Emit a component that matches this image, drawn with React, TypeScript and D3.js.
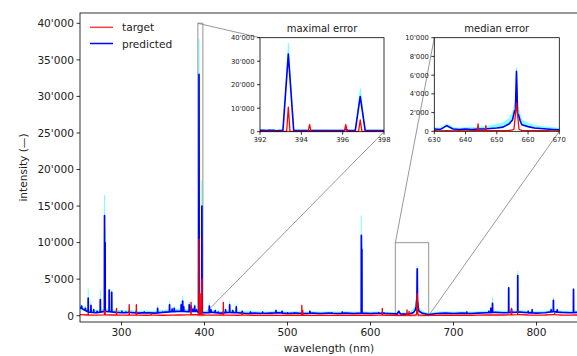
import React from 'react';
import * as d3 from 'd3';

const W = 577;
const H = 356;

// baseline sample points (nm) and the continuum
const baseNm = [250, 260, 270, 280, 290, 300, 310, 320, 330, 340, 350, 360, 370, 380, 390, 400, 410, 420, 430, 440, 450, 460, 470, 480, 490, 500, 510, 520, 530, 540, 550, 560, 570, 580, 590, 600, 610, 620,
  630, 632, 634, 636, 638, 640, 642, 644, 646, 648, 650, 652, 654, 655, 655.7, 656.9, 657.5, 658, 660, 662, 664, 666, 668, 670,
  680, 690, 700, 710, 720, 730, 740, 750, 760, 770, 780, 790, 800, 810, 820, 830, 840, 850];

const predictedBase = [1100, 500, 400, 600, 500, 400, 450, 350, 400, 350, 450, 550, 600, 550, 600, 400, 450, 350, 450, 400, 300, 350, 300, 350, 400, 300, 350, 300, 350, 300, 350, 300, 350, 300, 350, 300, 350, 300,
  250, 200, 600, 250, 200, 250, 200, 250, 250, 300, 350, 450, 800, 1200, 2200, 1800, 1100, 700, 500, 350, 300, 250, 200, 150,
  300, 350, 300, 350, 300, 350, 400, 450, 400, 450, 500, 400, 350, 400, 550, 450, 400, 450];

const predictedBaseHi = [1500, 800, 700, 900, 800, 700, 750, 600, 650, 600, 750, 850, 900, 850, 900, 650, 700, 600, 700, 650, 550, 600, 500, 550, 600, 500, 550, 500, 550, 500, 550, 500, 550, 500, 550, 500, 550, 500,
  400, 350, 800, 400, 350, 400, 400, 450, 500, 600, 750, 900, 1400, 2000, 3000, 2600, 1800, 1200, 900, 650, 550, 450, 400, 300,
  500, 550, 500, 550, 500, 550, 600, 650, 600, 650, 700, 600, 550, 600, 750, 650, 600, 650];

const targetBase = [150, 100, 80, 120, 100, 80, 100, 80, 60, 80, 60, 80, 100, 120, 150, 100, 80, 100, 80, 60, 80, 60, 50, 60, 50, 60, 80, 60, 50, 60, 50, 60, 50, 60, 80, 60, 80, 60,
  60, 50, 60, 50, 60, 50, 60, 70, 70, 60, 70, 80, 100, 150, 250, 250, 150, 100, 80, 70, 60, 60, 50, 50,
  60, 80, 60, 80, 60, 80, 100, 120, 100, 120, 150, 100, 80, 100, 150, 100, 80, 100];

// emission lines: [nm, peak, band top, half width]
const targetLines = [
  [259.9, 300, 400], [279.55, 700, 900], [280.27, 600, 800], [294.0, 1000, 1500],
  [309.3, 1500, 2000], [317.9, 1500, 2300], [336.0, 300, 500], [383.8, 1800, 3200],
  [393.37, 10500, 11200, 0.08], [394.4, 3000, 4000, 0.07], [396.15, 3000, 4000, 0.07], [396.85, 5000, 5600, 0.08],
  [422.7, 1800, 2200], [445.5, 400, 700], [517.3, 1400, 2500], [518.4, 700, 1000],
  [614.2, 1000, 1200], [644.0, 800, 1200, 0.2], [646.5, 600, 800, 0.2], [656.3, 3000, 3300, 0.8],
  [769.9, 1000, 1600], [777.4, 600, 800], [822.0, 300, 500],
];

const predictedLines = [
  [252, 1300, 1500], [256.5, 1000, 1300], [259.9, 2400, 3700], [263.2, 1400, 2000], [266.5, 800, 1000],
  [270.5, 600, 800], [274.5, 2200, 3500], [279.55, 13700, 16500], [280.27, 10000, 12000], [285.2, 3500, 3700],
  [288.2, 3200, 3600], [293.5, 500, 700], [300.5, 600, 800], [305.0, 500, 700], [309.3, 600, 800],
  [317.9, 600, 800], [324.7, 400, 600], [327.4, 500, 700], [333.0, 400, 500], [343.5, 1000, 1400],
  [349.5, 500, 700], [357.9, 1500, 2000], [361.0, 900, 1200], [363.5, 1000, 1300], [367.0, 600, 800],
  [371.9, 1500, 2000], [373.7, 2000, 2600], [375.0, 1200, 1500], [381.6, 1500, 2000], [383.8, 1300, 1700],
  [386.0, 900, 1200], [388.2, 1300, 1600], [390.5, 800, 1000], [392.3, 500, 600, 0.1], [392.8, 400, 500, 0.1],
  [393.37, 33000, 37800, 0.26], [394.4, 300, 400, 0.1], [396.15, 1000, 1200, 0.1], [396.85, 15000, 18500, 0.24],
  [405.8, 1300, 1700], [407.8, 800, 1000], [413.0, 700, 900], [416.5, 500, 700], [422.7, 500, 700],
  [425.4, 800, 1000], [430.3, 1500, 2000], [434.0, 700, 900], [438.3, 1200, 1700], [445.5, 600, 800],
  [455.4, 500, 700], [470.0, 500, 600], [486.1, 700, 900], [493.4, 600, 800], [500.0, 400, 500],
  [508.0, 400, 500], [527.0, 600, 800], [553.5, 400, 600], [566.0, 500, 600], [589.0, 11000, 13700],
  [589.6, 9100, 10000], [610.0, 400, 500], [616.2, 400, 500], [656.3, 6400, 6800, 0.35], [716.0, 500, 700],
  [742.5, 600, 800], [745.0, 1000, 1300], [747.0, 1700, 2500], [766.5, 3800, 4000], [769.9, 900, 1100],
  [777.4, 5500, 6100], [790.0, 600, 800], [794.8, 800, 1000], [817.6, 800, 1100], [820.4, 2100, 2500],
  [825.0, 800, 1000], [844.6, 3600, 3800],
];

const mainXTicks = [300, 400, 500, 600, 700, 800];
const mainYTicks = [0, 5000, 10000, 15000, 20000, 25000, 30000, 35000, 40000];
const inset1XTicks = [392, 394, 396, 398];
const inset1YTicks = [0, 10000, 20000, 30000, 40000];
const inset2XTicks = [630, 640, 650, 660, 670];
const inset2YTicks = [0, 2000, 4000, 6000, 8000, 10000];

type Pt = { nm: number; v: number; hi: number };

function buildSeries(base: number[], baseHi: number[], lines: number[][]): Pt[] {
  const vAt = d3.scaleLinear().domain(baseNm).range(base);
  const hiAt = d3.scaleLinear().domain(baseNm).range(baseHi);
  const half = (l: number[]) => (l[3] !== undefined ? l[3] : 0.15);
  const pts: Pt[] = baseNm
    .map((nm, i) => ({ nm, v: base[i], hi: baseHi[i] }))
    .filter(p => !lines.some(l => p.nm >= l[0] - half(l) && p.nm <= l[0] + half(l)));
  lines.forEach(l => {
    const [c, h, hh] = l;
    const w = half(l);
    pts.push({ nm: c - w, v: vAt(c - w), hi: hiAt(c - w) });
    pts.push({ nm: c, v: h, hi: hh });
    pts.push({ nm: c + w, v: vAt(c + w), hi: hiAt(c + w) });
  });
  return pts.sort((a, b) => a.nm - b.nm);
}

const predicted = buildSeries(predictedBase, predictedBaseHi, predictedLines);
const target = buildSeries(targetBase, targetBase, targetLines);

const fmt = (v: number) => d3.format(',')(v).replace(/,/g, "'");
const FONT = 'DejaVu Sans, sans-serif';

const Traces = ({ x, y, clip, sw }: any) => {
  const line = d3.line<Pt>().x(d => x(d.nm)).y(d => y(d.v));
  const band = d3.area<Pt>().x(d => x(d.nm)).y0(d => y(d.v)).y1(d => y(d.hi));
  return (
    <g clipPath={`url(#${clip})`}>
      <path d={band(predicted) || ''} fill="#00ffff" fillOpacity={0.45} stroke="#00ffff" strokeOpacity={0.3} strokeWidth={1} />
      <path d={band(target) || ''} fill="#ff00ff" fillOpacity={0.25} />
      <path d={line(predicted) || ''} fill="none" stroke="#0000ff" strokeWidth={sw} strokeLinejoin="round" />
      <path d={line(target) || ''} fill="none" stroke="#ff0000" strokeWidth={sw * 0.8} strokeLinejoin="round" />
    </g>
  );
};

const Axes = ({ x, y, xTicks, yTicks, fs, tl }: any) => {
  const [x0, x1] = x.range();
  const [y0, y1] = y.range();
  return (
    <g fontFamily={FONT} fontSize={fs} fill="#222">
      <rect x={x0} y={y1} width={x1 - x0} height={y0 - y1} fill="none" stroke="#000" strokeWidth={0.8} />
      {xTicks.map((t: number) => (
        <g key={'x' + t}>
          <line x1={x(t)} x2={x(t)} y1={y0} y2={y0 + tl} stroke="#000" strokeWidth={0.8} />
          <text x={x(t)} y={y0 + tl + 2 + fs * 0.8} textAnchor="middle">{t}</text>
        </g>
      ))}
      {yTicks.map((t: number) => (
        <g key={'y' + t}>
          <line x1={x0 - tl} x2={x0} y1={y(t)} y2={y(t)} stroke="#000" strokeWidth={0.8} />
          <text x={x0 - tl - 2.5} y={y(t) + fs * 0.36} textAnchor="end">{fmt(t)}</text>
        </g>
      ))}
    </g>
  );
};

export default function App() {
  const mx = d3.scaleLinear().domain([250, 850]).range([80, 578]);
  const my = d3.scaleLinear().domain([-862, 41409]).range([322, 13]);
  const ax = d3.scaleLinear().domain([392, 398]).range([260, 384]);
  const ay = d3.scaleLinear().domain([0, 40000]).range([131.7, 37.7]);
  const bx = d3.scaleLinear().domain([630, 670]).range([434.3, 559.3]);
  const by = d3.scaleLinear().domain([0, 10000]).range([131.3, 37.7]);

  const insetMark = (ix: any, iy: any, sx: any, sy: any) => {
    const [nx0, nx1] = sx.domain();
    const [ny0, ny1] = sy.domain();
    const rx0 = mx(nx0), rx1 = mx(nx1), ry0 = my(ny0), ry1 = my(ny1);
    return (
      <g stroke="#8c8c8c" fill="none" strokeWidth={0.9}>
        <rect x={rx0} y={ry1} width={rx1 - rx0} height={ry0 - ry1} stroke="#aaa" strokeWidth={1.3} />
        <line x1={rx0} y1={ry1} x2={ix[0]} y2={iy[1]} />
        <line x1={rx1} y1={ry0} x2={ix[1]} y2={iy[0]} />
      </g>
    );
  };

  return (
    <svg width={W} height={H} style={{ position: 'absolute', left: 0, top: 0 }} fontFamily={FONT}>
      <defs>
        <clipPath id="cm"><rect x={80} y={13} width={498} height={309} /></clipPath>
        <clipPath id="c1"><rect x={260} y={37.7} width={124} height={94} /></clipPath>
        <clipPath id="c2"><rect x={434.3} y={37.7} width={125} height={93.6} /></clipPath>
      </defs>
      <rect width={W} height={H} fill="#fff" />

      {insetMark(ax.range(), ay.range(), ax, ay)}
      {insetMark(bx.range(), by.range(), bx, by)}
      <Traces x={mx} y={my} clip="cm" sw={1.7} />
      <Axes x={mx} y={my} xTicks={mainXTicks} yTicks={mainYTicks} fs={10.6} tl={3.5} />

      <text x={329} y={352} textAnchor="middle" fontSize={10.6} fill="#222">wavelength (nm)</text>
      <text transform="translate(27,167.5) rotate(-90)" textAnchor="middle" fontSize={10.6} fill="#222">intensity (—)</text>

      <g fontSize={10.6} fill="#222">
        <line x1={90} x2={113} y1={27.3} y2={27.3} stroke="#ff0000" strokeOpacity={0.75} strokeWidth={1.5} />
        <text x={122} y={31.3}>target</text>
        <line x1={90} x2={113} y1={43.5} y2={43.5} stroke="#0000ff" strokeWidth={1.5} />
        <text x={122} y={47.5}>predicted</text>
      </g>

      <rect x={260} y={37.7} width={124} height={94} fill="#fff" />
      <Traces x={ax} y={ay} clip="c1" sw={1.6} />
      <Axes x={ax} y={ay} xTicks={inset1XTicks} yTicks={inset1YTicks} fs={6.8} tl={3} />
      <text x={322} y={32} textAnchor="middle" fontSize={10} fill="#222">maximal error</text>

      <rect x={434.3} y={37.7} width={125} height={93.6} fill="#fff" />
      <Traces x={bx} y={by} clip="c2" sw={1.6} />
      <Axes x={bx} y={by} xTicks={inset2XTicks} yTicks={inset2YTicks} fs={6.8} tl={3} />
      <text x={496.8} y={32} textAnchor="middle" fontSize={10} fill="#222">median error</text>
    </svg>
  );
}
